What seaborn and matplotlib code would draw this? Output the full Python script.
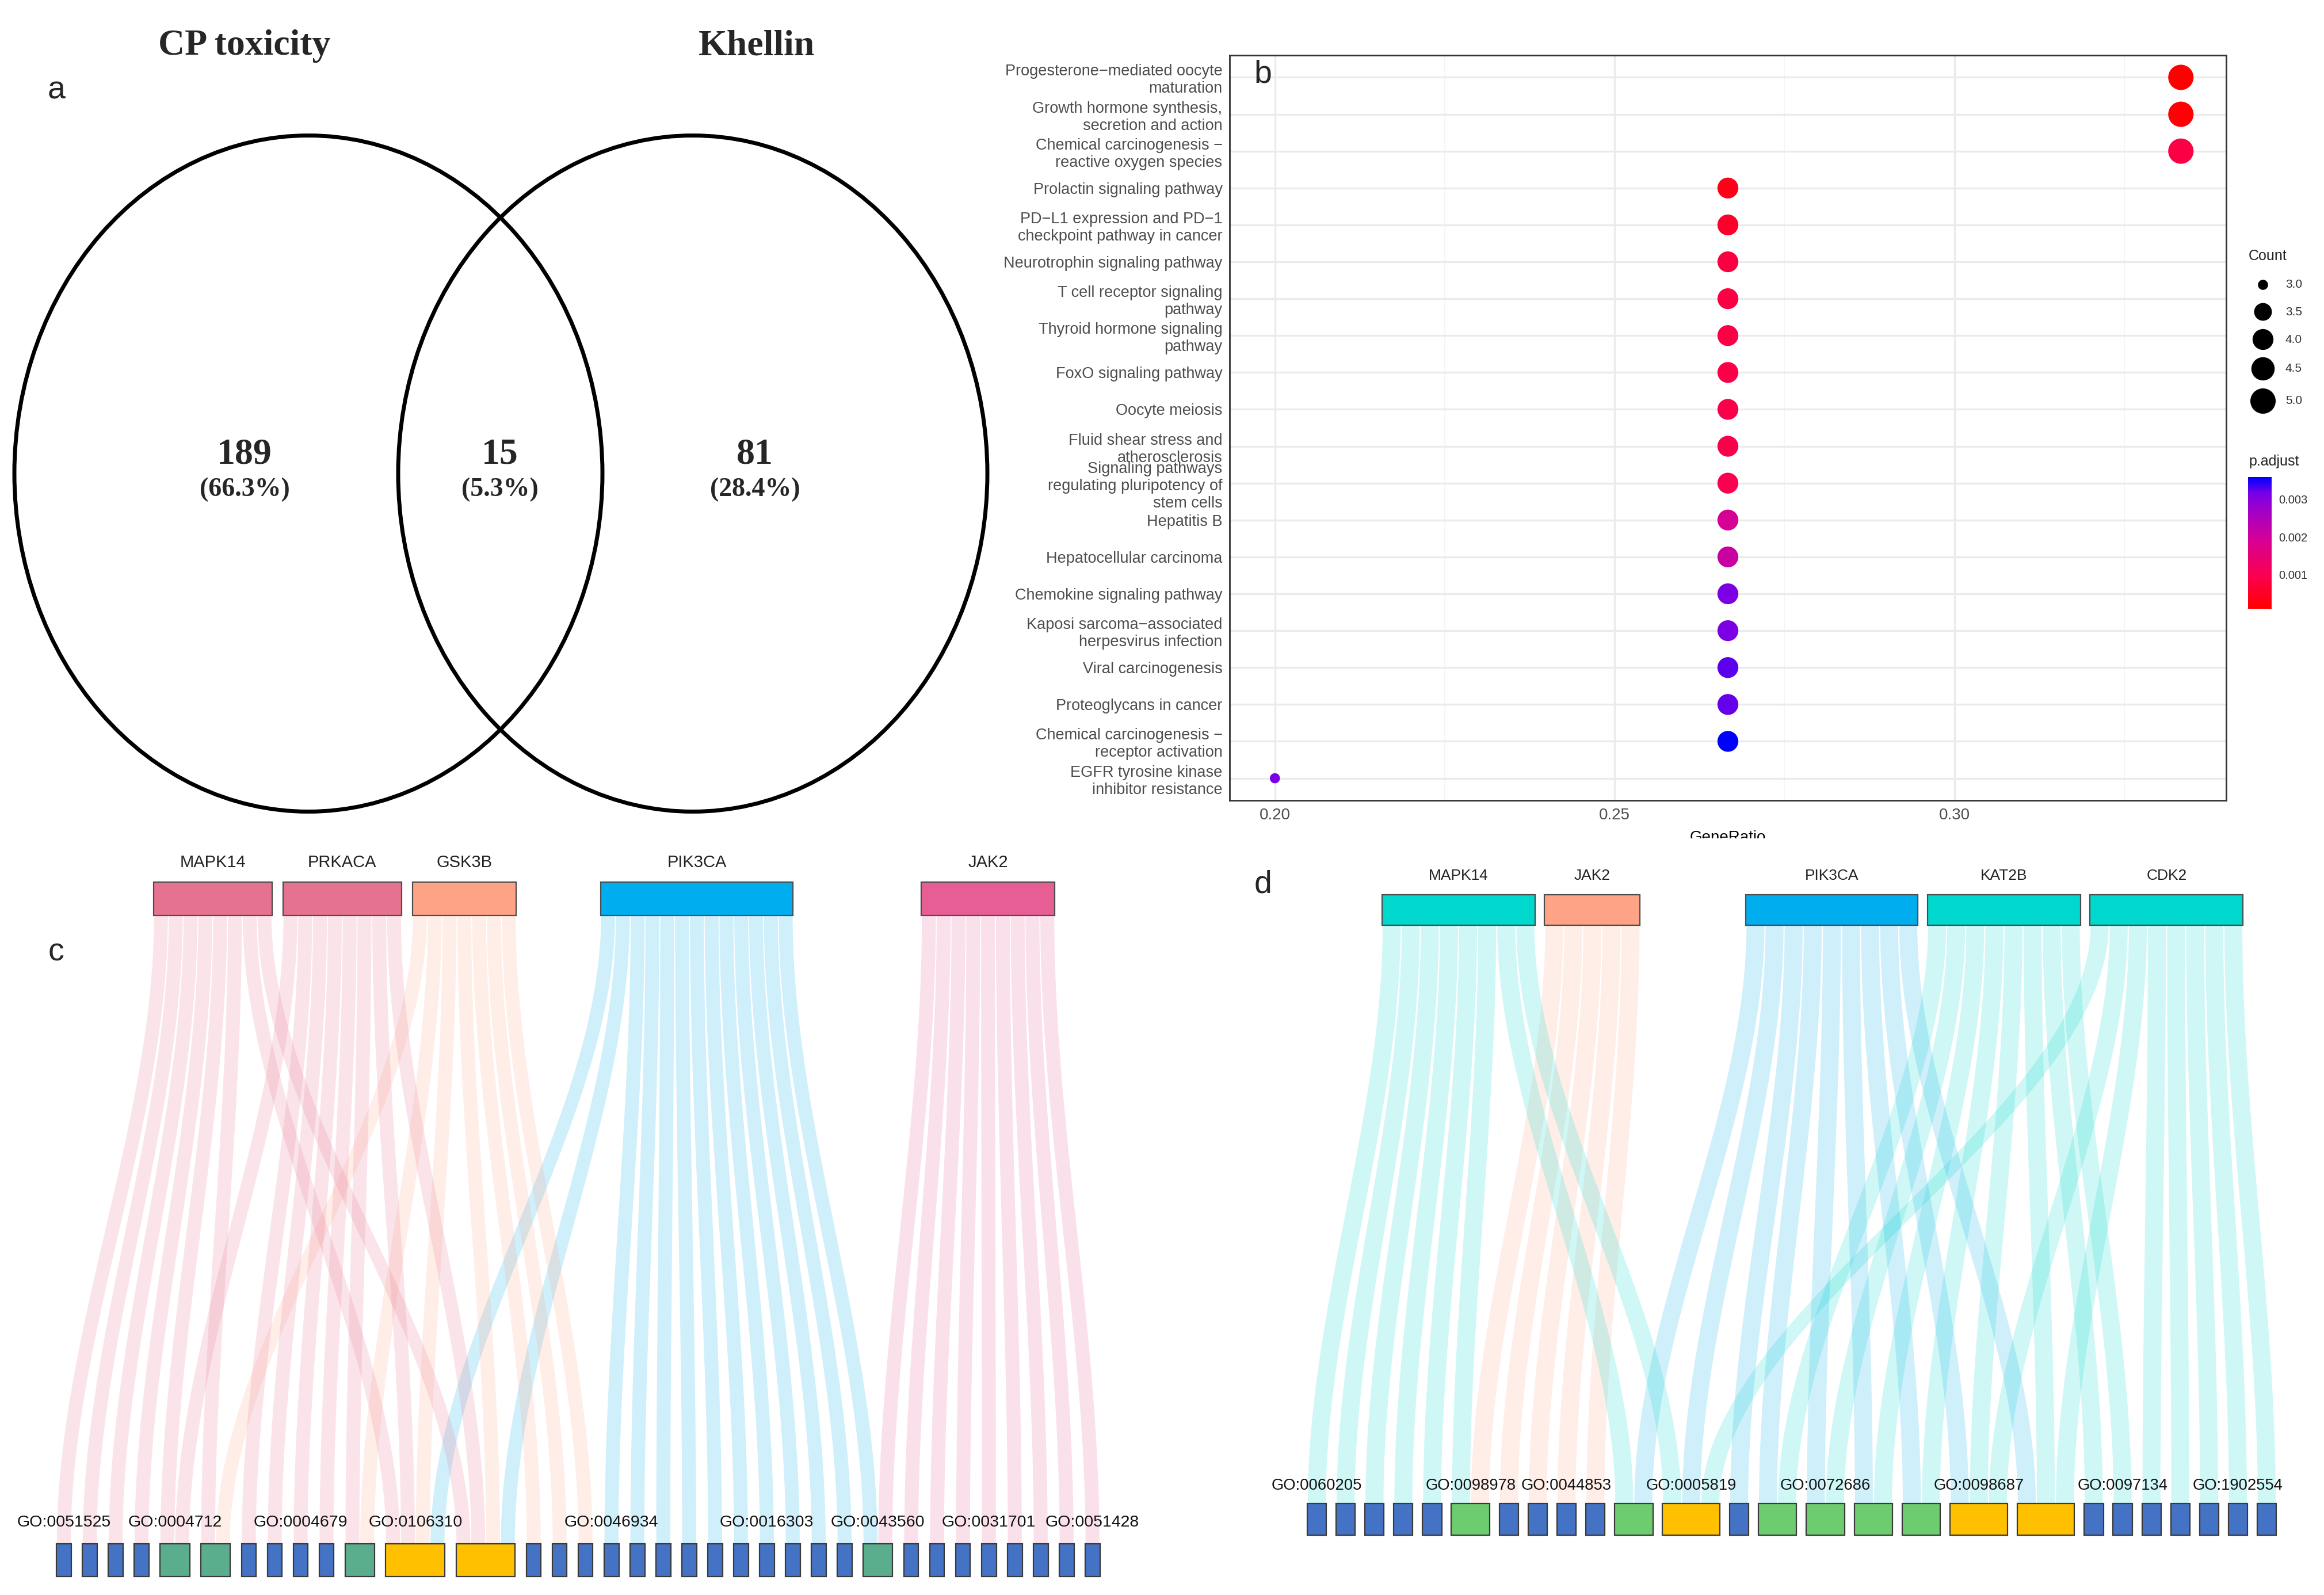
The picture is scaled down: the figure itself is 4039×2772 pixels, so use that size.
import numpy as np
import pandas as pd
import matplotlib
matplotlib.use('Agg')
import matplotlib.pyplot as plt
import seaborn as sns
from matplotlib import font_manager
from matplotlib.patches import Ellipse, Rectangle
from matplotlib.colors import LinearSegmentedColormap, Normalize
from matplotlib.cm import ScalarMappable
from matplotlib.transforms import Bbox, TransformedBbox

W, H, DPI = 4039, 2772, 100

# ---- panel a: Venn of targets
venn_names = ['CP toxicity', 'Khellin']
venn_values = [189, 15, 81]          # CP only, shared, Khellin only

# ---- panel b: KEGG enrichment dot plot
kegg_terms = [
    'Progesterone−mediated oocyte\nmaturation',
    'Growth hormone synthesis,\nsecretion and action',
    'Chemical carcinogenesis −\nreactive oxygen species',
    'Prolactin signaling pathway',
    'PD−L1 expression and PD−1\ncheckpoint pathway in cancer',
    'Neurotrophin signaling pathway',
    'T cell receptor signaling\npathway',
    'Thyroid hormone signaling\npathway',
    'FoxO signaling pathway',
    'Oocyte meiosis',
    'Fluid shear stress and\natherosclerosis',
    'Signaling pathways\nregulating pluripotency of\nstem cells',
    'Hepatitis B',
    'Hepatocellular carcinoma',
    'Chemokine signaling pathway',
    'Kaposi sarcoma−associated\nherpesvirus infection',
    'Viral carcinogenesis',
    'Proteoglycans in cancer',
    'Chemical carcinogenesis −\nreceptor activation',
    'EGFR tyrosine kinase\ninhibitor resistance',
]
kegg_count = [5, 5, 5, 4, 4, 4, 4, 4, 4, 4, 4, 4, 4, 4, 4, 4, 4, 4, 4, 3]
kegg_padj = [0.00009, 0.00015, 0.00085, 0.00035, 0.00055, 0.00080, 0.00082,
             0.00085, 0.00088, 0.00090, 0.00092, 0.00095, 0.00190, 0.00210,
             0.00310, 0.00312, 0.00325, 0.00322, 0.00359, 0.00315]
kegg_gene_total = 15
padj_ticks = [0.001, 0.002, 0.003]
count_legend = [3.0, 3.5, 4.0, 4.5, 5.0]

# ---- panel c: gene -> GO term links
c_genes = ['MAPK14', 'PRKACA', 'GSK3B', 'PIK3CA', 'JAK2']
c_gene_colors = ['#E5738F', '#E5738F', '#FFA386', '#00AEEF', '#E65E94']
c_term_genes = ([['MAPK14']] * 4
                + [['MAPK14', 'PRKACA'], ['MAPK14', 'GSK3B']]
                + [['PRKACA']] * 4
                + [['PRKACA', 'GSK3B']]
                + [['MAPK14', 'PRKACA', 'GSK3B', 'PIK3CA']] * 2
                + [['GSK3B']] * 3
                + [['PIK3CA']] * 10
                + [['PIK3CA', 'JAK2']]
                + [['JAK2']] * 8)
c_term_labels = ['GO:0051525', '', '', '', 'GO:0004712', '', '', '', 'GO:0004679',
                 '', '', 'GO:0106310', '', '', '', '', 'GO:0046934', '', '', '',
                 '', '', 'GO:0016303', '', '', '', 'GO:0043560', '', '', '',
                 'GO:0031701', '', '', '', 'GO:0051428']

# ---- panel d: gene -> GO term links
d_genes = ['MAPK14', 'JAK2', 'PIK3CA', 'KAT2B', 'CDK2']
d_gene_colors = ['#00D8CE', '#FFA386', '#00AEEF', '#00D8CE', '#00D8CE']
d_term_genes = ([['MAPK14']] * 5
                + [['MAPK14', 'JAK2']]
                + [['JAK2']] * 4
                + [['MAPK14', 'PIK3CA'], ['MAPK14', 'PIK3CA', 'CDK2'], ['PIK3CA']]
                + [['PIK3CA', 'KAT2B']] * 4
                + [['PIK3CA', 'KAT2B', 'CDK2']] * 2
                + [['KAT2B']] * 2
                + [['CDK2']] * 5)
d_term_labels = ['GO:0060205', '', '', '', '', 'GO:0098978', '', '', 'GO:0044853',
                 '', '', 'GO:0005819', '', '', 'GO:0072686', '', '', 'GO:0098687',
                 '', '', 'GO:0097134', '', '', '', 'GO:1902554', '']

# ---------------------------------------------------------------
sns.set_style('white')
plt.rcParams['font.family'] = ['Liberation Sans', 'DejaVu Sans']

try:
    font_manager.findfont(font_manager.FontProperties(family='Liberation Sans Narrow'),
                          fallback_to_default=False)
    NARROW = ['Liberation Sans Narrow', 'Liberation Sans', 'DejaVu Sans']
    nscale = 1.2
except Exception:
    NARROW = ['Liberation Sans', 'DejaVu Sans']
    nscale = 1.0

SERIF = ['Liberation Serif', 'DejaVu Serif']

fig = plt.figure(figsize=(W / DPI, H / DPI), dpi=DPI)
fig.patch.set_facecolor('white')

# ---------------- panel b ----------------
ax_b = fig.add_axes([2137 / W, 1 - 1391 / H, (3869 - 2137) / W, (1391 - 96) / H])

df = pd.DataFrame({'Description': kegg_terms, 'Count': kegg_count,
                   'p.adjust': kegg_padj})
df['GeneRatio'] = df['Count'] / kegg_gene_total
df['pos'] = np.arange(len(df))

padj_cmap = LinearSegmentedColormap.from_list(
    'padj', [(0, '#FF0000'), (0.25, '#FA0050'), (0.5, '#DA0090'),
             (0.75, '#A000C8'), (0.875, '#7800E6'), (1, '#0000FF')])
padj_norm = Normalize(vmin=min(kegg_padj), vmax=max(kegg_padj))

cmin, cmax = min(kegg_count), max(kegg_count)


def dot_area(count):
    # enrichplot-like scale_size(range = c(3, 8)) on area
    size_mm = 3 + 5 * np.sqrt((np.asarray(count, float) - cmin) / (cmax - cmin))
    diam_px = 1.857 * (size_mm * 2.845 + 0.945)
    return (diam_px * 72 / DPI) ** 2


size_map = {c: float(dot_area(c)) for c in sorted(set(kegg_count))}

ax_b.set_axisbelow(True)
sns.scatterplot(data=df, x='GeneRatio', y='pos', hue='p.adjust', palette=padj_cmap,
                hue_norm=padj_norm, size='Count', sizes=size_map, linewidth=0,
                legend=False, ax=ax_b, zorder=3)

gr = df['GeneRatio']
span = gr.max() - gr.min()
ax_b.set_xlim(gr.min() - 0.05 * span, gr.max() + 0.05 * span)
ax_b.set_ylim(len(df) - 0.4, -0.6)
ax_b.set_xticks([0.20, 0.25, 0.30])
ax_b.set_xticklabels(['0.20', '0.25', '0.30'], fontsize=20, color='#4D4D4D')
ax_b.set_xticks([0.225, 0.275, 0.325], minor=True)
ax_b.set_yticks(df['pos'])
ax_b.set_yticklabels(df['Description'], fontsize=19.5, color='#4D4D4D',
                     linespacing=1.2)
ax_b.grid(which='major', color='#EBEBEB', lw=2.4)
ax_b.grid(which='minor', axis='x', color='#F4F4F4', lw=1.2)
ax_b.tick_params(which='major', length=5, width=1.6, color='#333333', pad=4)
ax_b.tick_params(which='minor', length=0)
for sp in ax_b.spines.values():
    sp.set_color('#333333')
    sp.set_linewidth(2.0)
ax_b.set_ylabel('')
ax_b.set_xlabel('GeneRatio', fontsize=20, labelpad=10, color='black')
clip = TransformedBbox(Bbox.from_extents(0, 1 - 1457 / H, 1, 1), fig.transFigure)
ax_b.xaxis.label.set_clip_box(clip)
ax_b.xaxis.label.set_clip_on(True)

# colour bar legend
cax = fig.add_axes([3907 / W, 1 - 1058 / H, 41 / W, 229 / H])
sm = ScalarMappable(norm=padj_norm, cmap=padj_cmap)
cb = fig.colorbar(sm, cax=cax, ticks=padj_ticks)
cb.outline.set_visible(False)
cb.ax.set_yticklabels([f'{t:.3f}' for t in padj_ticks])
cax.tick_params(axis='y', left=True, right=True, labelleft=False, labelright=True,
                direction='in', length=6, width=1.5, color='white',
                labelcolor='#333333', labelsize=14.5, pad=9)

# ---------------- canvas for a, c, d and the size legend ----------------
cv = fig.add_axes([0, 0, 1, 1])
cv.set_xlim(0, W)
cv.set_ylim(H, 0)
cv.axis('off')
cv.patch.set_alpha(0)

# panel a
total = sum(venn_values)
cv.add_patch(Ellipse((536, 823), 1022, 1175, fill=False, ec='black', lw=5))
cv.add_patch(Ellipse((1204, 823), 1024, 1175, fill=False, ec='black', lw=5))
for name, x in zip(venn_names, [425, 1315]):
    cv.text(x, 80, name, ha='center', va='center', fontsize=46,
            fontweight='bold', family=SERIF)
for v, x in zip(venn_values, [425, 869, 1312]):
    cv.text(x, 791, str(v), ha='center', va='center', fontsize=46,
            fontweight='bold', family=SERIF)
    cv.text(x, 851, f'({100 * v / total:.1f}%)', ha='center', va='center',
            fontsize=33, fontweight='bold', family=SERIF)

# panel labels
for lab, (x, y) in zip('abcd', [(98, 157), (2195, 129), (97, 1656), (2195, 1538)]):
    cv.text(x, y, lab, ha='center', va='center', fontsize=40)

# size legend for panel b
cv.text(3908, 445, 'Count', ha='left', va='center', fontsize=18, color='#222222')
cv.text(3908, 802, 'p.adjust', ha='left', va='center', fontsize=18, color='#222222')
leg_y = [495, 542, 590, 641, 697]
cv.scatter([3933] * len(count_legend), leg_y, s=dot_area(count_legend),
           color='black', linewidths=0)
for c, y in zip(count_legend, leg_y):
    cv.text(3972, y, f'{c:.1f}', ha='left', va='center', fontsize=15, color='#333333')


def draw_links(ax, genes, gene_colors, term_genes, term_labels, green, x0, unit, gap,
               bar_top, bar_h, box_top, box_h, gene_lab_y, term_lab_y,
               gene_fs, term_fs):
    color_of = dict(zip(genes, gene_colors))
    sizes = [len(t) for t in term_genes]
    starts, x = [], x0
    for s in sizes:
        starts.append(x)
        x += s * unit + gap
    centers = [st + s * unit / 2 for st, s in zip(starts, sizes)]

    # gene bars centred on their terms, pushed right when they collide
    n_links = {g: sum(g in t for t in term_genes) for g in genes}
    bar_start, prev_end = {}, -1e9
    for g in genes:
        want = np.mean([centers[i] for i, t in enumerate(term_genes) if g in t])
        st = max(want - n_links[g] * unit / 2, prev_end + gap)
        bar_start[g] = st
        prev_end = st + n_links[g] * unit

    tt = np.linspace(0, 1, 90)
    ss = tt * tt * (3 - 2 * tt)
    y0, y1 = bar_top + bar_h, box_top
    yy = y0 + (y1 - y0) * tt
    pad = 0.03 * unit
    slot = {g: 0 for g in genes}
    for i, t in enumerate(term_genes):
        for j, g in enumerate(sorted(t, key=genes.index)):
            xt = bar_start[g] + slot[g] * unit
            slot[g] += 1
            xb = starts[i] + j * unit
            xl = xt + (xb - xt) * ss
            ax.fill(np.r_[xl + pad, (xl + unit - pad)[::-1]], np.r_[yy, yy[::-1]],
                    color=color_of[g], alpha=0.19, lw=0, zorder=1)

    for g in genes:
        ax.add_patch(Rectangle((bar_start[g], bar_top), n_links[g] * unit, bar_h,
                               fc=color_of[g], ec='#4D4D4D', lw=1.6, zorder=3))
        ax.text(bar_start[g] + n_links[g] * unit / 2, gene_lab_y, g, ha='center',
                va='center', fontsize=gene_fs, family=NARROW, color='#222222')
    for i, s in enumerate(sizes):
        fc = '#4472C4' if s == 1 else (green if s == 2 else '#FFC000')
        ax.add_patch(Rectangle((starts[i], box_top), s * unit, box_h, fc=fc,
                               ec='#3A3A3A', lw=1.6, zorder=3))
        if term_labels[i]:
            ax.text(centers[i], term_lab_y, term_labels[i], ha='center', va='center',
                    fontsize=term_fs, family=NARROW, color='#111111', zorder=4)


draw_links(cv, c_genes, c_gene_colors, c_term_genes, c_term_labels, '#5BAE8D',
           x0=98, unit=25.72, gap=19.3, bar_top=1533, bar_h=58, box_top=2683,
           box_h=57, gene_lab_y=1499, term_lab_y=2646,
           gene_fs=21 * nscale, term_fs=20.5 * nscale)
draw_links(cv, d_genes, d_gene_colors, d_term_genes, d_term_labels, '#6DCC6D',
           x0=2272, unit=33.2, gap=16.9, bar_top=1555, bar_h=53, box_top=2613,
           box_h=55, gene_lab_y=1522, term_lab_y=2582,
           gene_fs=19 * nscale, term_fs=19.7 * nscale)

fig.savefig('out.png', dpi=DPI, facecolor='white')
